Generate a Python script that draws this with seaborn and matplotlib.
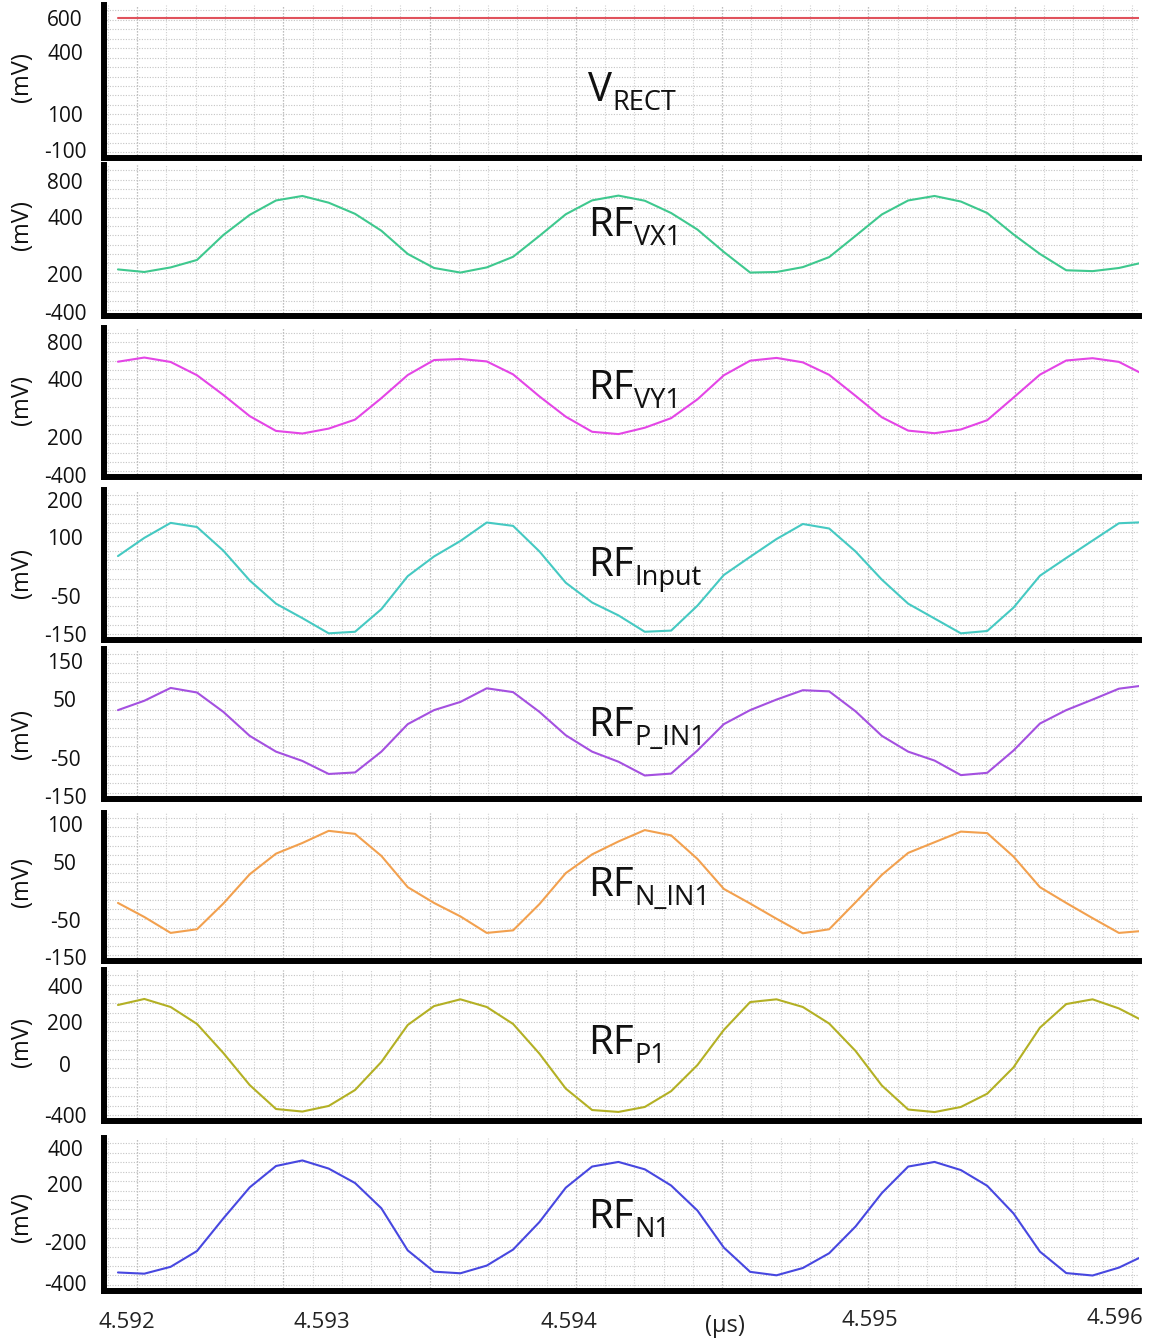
import numpy as np
import matplotlib
matplotlib.use("Agg")
import matplotlib.pyplot as plt
from matplotlib.ticker import FixedLocator
import seaborn as sns

# ---------------------------------------------------------------- data
# transient simulation samples, time in µs, voltages in mV
T_START = 4.592054
T_STEP = 0.0001018
N_SAMPLES = 40

v_rect = [600, 600, 600, 600, 600, 600, 600, 600, 600, 600,
          600, 600, 600, 600, 600, 600, 600, 600, 600, 600,
          600, 600, 600, 600, 600, 600, 600, 600, 600, 600,
          600, 600, 600, 600, 600, 600, 600, 600, 600, 600]

rf_vx1 = [216, 207, 223, 249, 336, 420, 581, 631, 556, 432, 351, 270,
          221, 205, 223, 260, 333, 427, 582, 635, 578, 441, 355, 277,
          205, 207, 224, 259, 333, 425, 581, 631, 569, 441, 338, 270,
          213, 210, 221, 242]

rf_vy1 = [587, 632, 584, 441, 345, 272, 221, 212, 229, 260, 334, 443,
          605, 616, 590, 450, 340, 270, 218, 210, 232, 265, 330, 440,
          598, 628, 580, 445, 342, 268, 222, 213, 226, 258, 336, 447,
          600, 625, 585, 440]

rf_input = [52, 99, 139, 128, 66, -11, -71, -108, -147, -143, -85, 0,
            51, 91, 140, 131, 64, -17, -68, -101, -143, -140, -76, 3,
            50, 96, 136, 124, 64, -9, -71, -109, -147, -141, -81, 1,
            47, 92, 138, 141]

rf_p_in1 = [31, 47, 79, 67, 28, -13, -40, -59, -93, -89, -40, 7,
            31, 45, 78, 68, 28, -12, -40, -61, -97, -92, -38, 7,
            31, 49, 73, 70, 29, -13, -40, -58, -96, -90, -38, 8,
            31, 49, 77, 86]

rf_n_in1 = [-20, -44, -84, -74, -21, 29, 61, 75, 91, 87, 58, 7,
            -20, -43, -84, -77, -22, 31, 60, 77, 92, 85, 54, 4,
            -21, -47, -85, -74, -19, 28, 62, 76, 90, 88, 57, 7,
            -20, -46, -84, -78]

rf_p1 = [296, 329, 285, 193, 53, -165, -353, -373, -329, -204, 10, 188,
         290, 327, 285, 193, 50, -193, -361, -376, -337, -213, -8, 164,
         312, 327, 285, 195, 63, -169, -357, -377, -337, -233, -26, 175,
         301, 327, 277, 203]

rf_n1 = [-348, -354, -320, -242, -34, 180, 300, 330, 286, 208, 36, -239,
         -344, -352, -314, -235, -59, 178, 297, 322, 282, 193, 20, -225,
         -345, -362, -326, -253, -90, 141, 297, 322, 278, 191, 0, -245,
         -351, -363, -324, -262]

# y tick labels of each trace (top to bottom)
ticks_rect = [600, 400, 100, -100]
ticks_vx1 = [800, 400, 200, -400]
ticks_vy1 = [800, 400, 200, -400]
ticks_input = [200, 100, -50, -150]
ticks_p_in1 = [150, 50, -50, -150]
ticks_n_in1 = [100, 50, -50, -150]
ticks_p1 = [400, 200, 0, -400]
ticks_n1 = [400, 200, -200, -400]

time_labels = ["4.592", "4.593", "4.594", "4.595", "4.596"]
time_unit = "(µs)"
volt_unit = "(mV)"

traces = [
    dict(values=v_rect, ticks=ticks_rect, color="#e0525c", main="V", sub="RECT"),
    dict(values=rf_vx1, ticks=ticks_vx1, color="#3ec88e", main="RF", sub="VX1"),
    dict(values=rf_vy1, ticks=ticks_vy1, color="#e445e6", main="RF", sub="VY1"),
    dict(values=rf_input, ticks=ticks_input, color="#45c9c2", main="RF", sub="Input"),
    dict(values=rf_p_in1, ticks=ticks_p_in1, color="#a450e0", main="RF", sub="P_IN1"),
    dict(values=rf_n_in1, ticks=ticks_n_in1, color="#f2a04e", main="RF", sub="N_IN1"),
    dict(values=rf_p1, ticks=ticks_p1, color="#b3b024", main="RF", sub="P1"),
    dict(values=rf_n1, ticks=ticks_n1, color="#4747e0", main="RF", sub="N1"),
]

# ---------------------------------------------------------------- layout (pixels)
W, H, DPI = 1154, 1344, 100
AX_LEFT, AX_RIGHT = 104, 1139
PANEL_TOP = [5, 165, 328, 490, 649, 813, 970, 1138]
PANEL_BOTTOM = [158.3, 316, 477, 640, 798.5, 961, 1121, 1291]
TICK_Y = [[18.3, 52.5, 113.5, 150],
          [180.8, 216.7, 274, 312.5],
          [342, 379, 437, 475],
          [500, 537.5, 595.5, 634.5],
          [660.8, 699, 757.5, 795.8],
          [824, 862, 920.5, 957],
          [986, 1022.5, 1064, 1115],
          [1147.5, 1184.5, 1242.5, 1283]]
NAME_X = 588
NAME_BASELINE = [101, 236, 399, 576, 736, 896, 1054, 1228]
UNIT_Y = [77.5, 225, 400, 573.5, 734, 882, 1042, 1217]
UNIT_X = 22
TIME_LABEL_POS = [(127, 1322), (322, 1322), (569, 1322), (870, 1320), (1115, 1318)]
TIME_UNIT_POS = (725, 1326)

X_MIN, X_MAX = 4.592, 4.596
GRID_T0 = 4.5921275
GRID_MAJOR = 0.0005654
GRID_MINOR = 0.00011308

sns.set_theme(style="white")
plt.rcParams["font.family"] = ["Open Sans", "DejaVu Sans"]


def piecewise_scale(values, fracs):
    """Axis scale that puts each labelled level at its own height."""
    v = np.asarray(values, float)
    f = np.asarray(fracs, float)
    order = np.argsort(v)
    v, f = v[order], f[order]
    big = 1e6
    s_lo = (f[1] - f[0]) / (v[1] - v[0])
    s_hi = (f[-1] - f[-2]) / (v[-1] - v[-2])
    v_ext = np.r_[v[0] - big, v, v[-1] + big]
    f_ext = np.r_[f[0] - s_lo * big, f, f[-1] + s_hi * big]

    def forward(x):
        return np.interp(np.asarray(x, float), v_ext, f_ext)

    def inverse(y):
        return np.interp(np.asarray(y, float), f_ext, v_ext)

    return forward, inverse


fig = plt.figure(figsize=(W / DPI, H / DPI), dpi=DPI)
fig.patch.set_facecolor("white")
t = T_START + T_STEP * np.arange(N_SAMPLES)
dotted = (0, (1, 1.4))

for i, tr in enumerate(traces):
    top, bot = PANEL_TOP[i], PANEL_BOTTOM[i]
    ax = fig.add_axes([AX_LEFT / W, 1 - bot / H, (AX_RIGHT - AX_LEFT) / W, (bot - top) / H])
    ax.set_facecolor("white")
    sns.lineplot(x=t, y=tr["values"], ax=ax, color=tr["color"], linewidth=1.5,
                 estimator=None, sort=False, zorder=3)

    fracs = [(bot - y) / (bot - top) for y in TICK_Y[i]]
    fwd, inv = piecewise_scale(tr["ticks"], fracs)
    ax.set_yscale("function", functions=(fwd, inv))
    ax.set_ylim(float(inv(0.0)), float(inv(1.0)))
    ax.set_xlim(X_MIN, X_MAX)

    ax.set_yticks(tr["ticks"])
    ax.set_yticklabels([str(v) for v in tr["ticks"]])
    ax.yaxis.set_minor_locator(FixedLocator(inv(np.linspace(0.04, 0.965, 16))))
    ax.xaxis.set_major_locator(FixedLocator(GRID_T0 + GRID_MAJOR * np.arange(7)))
    ax.xaxis.set_minor_locator(FixedLocator(GRID_T0 + GRID_MINOR * np.arange(-1, 36)))

    ax.grid(False)
    ax.grid(True, which="major", axis="x", color="#a9a9a9", linestyle=dotted, linewidth=0.9)
    ax.grid(True, which="minor", axis="x", color="#cfcfcf", linestyle=dotted, linewidth=0.8)
    ax.grid(True, which="minor", axis="y", color="#c4c4c4", linestyle=dotted, linewidth=0.8)
    ax.set_axisbelow(True)

    ax.tick_params(axis="both", which="both", length=0)
    ax.tick_params(axis="x", labelbottom=False)
    ax.tick_params(axis="y", pad=(AX_LEFT - 65) * 72 / DPI, labelsize=15, labelcolor="#111111")
    for lbl in ax.get_yticklabels():
        lbl.set_horizontalalignment("center")
    ax.set_xlabel("")
    ax.set_ylabel("")

    for side in ("top", "right"):
        ax.spines[side].set_visible(False)
    for side in ("left", "bottom"):
        ax.spines[side].set_linewidth(4.3)
        ax.spines[side].set_color("black")
        ax.spines[side].set_capstyle("projecting")

    # trace name with subscript
    name = ax.text((NAME_X - AX_LEFT) / (AX_RIGHT - AX_LEFT),
                   (bot - NAME_BASELINE[i]) / (bot - top),
                   tr["main"], transform=ax.transAxes, fontsize=29,
                   ha="left", va="baseline", color="#111111", zorder=6)
    ax.annotate(tr["sub"], xy=(1, 0), xycoords=name, xytext=(0.5, 0.5),
                textcoords="offset points", fontsize=19.5, ha="left",
                va="baseline", color="#111111", zorder=6)

    fig.text(UNIT_X / W, 1 - UNIT_Y[i] / H, volt_unit, rotation=90,
             ha="center", va="center", fontsize=17, color="#111111")

for lab, (x, y) in zip(time_labels, TIME_LABEL_POS):
    fig.text(x / W, 1 - y / H, lab, ha="center", va="center", fontsize=16, color="#222222")
fig.text(TIME_UNIT_POS[0] / W, 1 - TIME_UNIT_POS[1] / H, time_unit,
         ha="center", va="center", fontsize=17, color="#222222")

fig.savefig("out.png", dpi=DPI, facecolor="white")
